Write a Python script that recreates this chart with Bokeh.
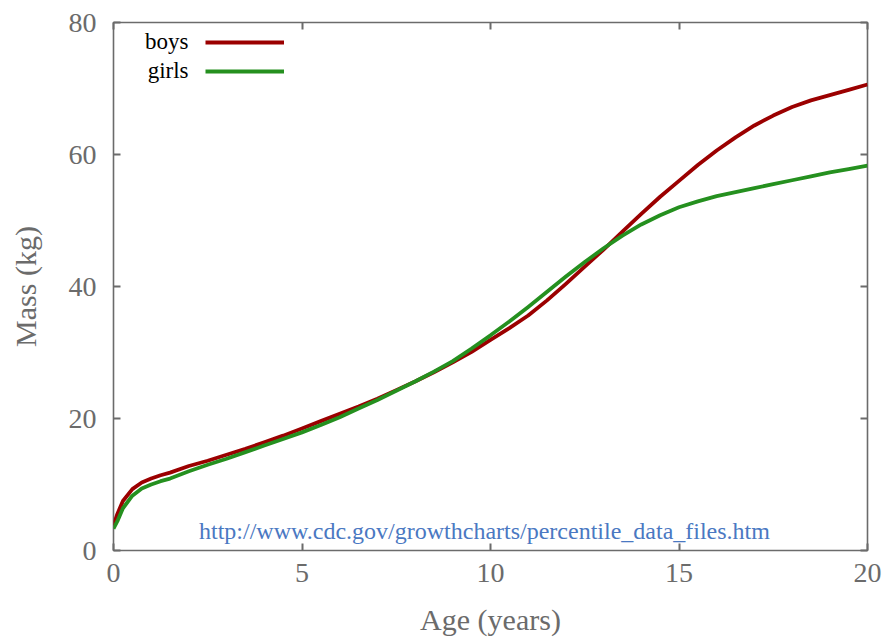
from bokeh.plotting import figure
from bokeh.models import (Range1d, LinearAxis, FixedTicker, Label, Legend, LegendItem,
                          CustomLabelingPolicy)
from bokeh.embed import file_html
from bokeh.resources import INLINE

# median weight-for-age (kg)
age = [0, 0.1, 0.25, 0.5, 0.75, 1, 1.25, 1.5, 2, 2.5, 3, 3.5, 4, 4.5, 5, 5.5, 6, 6.5, 7, 7.5,
       8, 8.5, 9, 9.5, 10, 10.5, 11, 11.5, 12, 12.5, 13, 13.5, 14, 14.5, 15, 15.5, 16, 16.5,
       17, 17.5, 18, 18.5, 19, 19.5, 20]
boys = [3.8, 5.5, 7.5, 9.3, 10.3, 10.9, 11.4, 11.8, 12.8, 13.6, 14.5, 15.4, 16.4, 17.4, 18.5,
        19.6, 20.7, 21.8, 23.0, 24.3, 25.6, 27.0, 28.5, 30.1, 31.9, 33.7, 35.6, 37.9, 40.4,
        43.0, 45.6, 48.3, 51.0, 53.6, 56.0, 58.4, 60.6, 62.6, 64.4, 65.9, 67.2, 68.2, 69.0,
        69.8, 70.6]
girls = [3.3, 4.4, 6.4, 8.3, 9.4, 10.0, 10.5, 10.9, 12.0, 13.0, 13.9, 14.9, 15.9, 16.9, 17.9,
         19.0, 20.2, 21.5, 22.8, 24.2, 25.6, 27.1, 28.7, 30.6, 32.6, 34.7, 36.9, 39.2, 41.5,
         43.7, 45.8, 47.7, 49.4, 50.8, 52.0, 52.9, 53.7, 54.3, 54.9, 55.5, 56.1, 56.7, 57.3,
         57.8, 58.3]
x_ticks = [0, 5, 10, 15, 20]
y_ticks = [0, 20, 40, 60, 80]
series_names = ["boys", "girls"]
source_text = "http://www.cdc.gov/growthcharts/percentile_data_files.htm"

FONT = "Liberation Serif"
GREY = "#6b6b6b"
BOY_C = "#9b0000"
GIRL_C = "#25901f"

p = figure(width=886, height=639, output_backend="svg", toolbar_location=None,
           x_range=Range1d(0, 20), y_range=Range1d(0, 80),
           min_border_left=113, min_border_right=19, min_border_top=22, min_border_bottom=89)
p.background_fill_color = "white"
p.border_fill_color = "white"
p.grid.visible = False
p.outline_line_color = GREY
p.outline_line_width = 1.6

r_boys = p.line(age, boys, line_color=BOY_C, line_width=3.8, line_join="round")
r_girls = p.line(age, girls, line_color=GIRL_C, line_width=3.8, line_join="round")

hide_labels = CustomLabelingPolicy(code="""
    const ids = [...indices]
    for (const i of ids) indices.unset(i)
    return indices
""")


def style_axis(ax, ticks, show_labels):
    ax.ticker = FixedTicker(ticks=ticks)
    ax.axis_line_color = None
    ax.major_tick_in = 7
    ax.major_tick_out = 0
    ax.major_tick_line_color = GREY
    ax.major_tick_line_width = 2
    ax.minor_tick_line_color = None
    if show_labels:
        ax.major_label_text_font = FONT
        ax.major_label_text_font_size = "28px"
        ax.major_label_text_color = GREY
        ax.axis_label_text_font = FONT
        ax.axis_label_text_font_size = "30px"
        ax.axis_label_text_font_style = "normal"
        ax.axis_label_text_color = GREY
    else:
        ax.major_label_policy = hide_labels
        ax.major_label_standoff = 0


style_axis(p.xaxis[0], x_ticks, True)
style_axis(p.yaxis[0], y_ticks, True)
p.xaxis[0].axis_label = "Age (years)"
p.yaxis[0].axis_label = "Mass (kg)"
p.xaxis[0].major_label_standoff = 13
p.yaxis[0].major_label_standoff = 17
p.xaxis[0].axis_label_standoff = 18
p.yaxis[0].axis_label_standoff = 24

top_ax = LinearAxis()
right_ax = LinearAxis()
style_axis(top_ax, x_ticks, False)
style_axis(right_ax, y_ticks, False)
p.add_layout(top_ax, "above")
p.add_layout(right_ax, "right")

# legend: line samples only; the names are drawn right-aligned to their left
legend = Legend(items=[LegendItem(label="", renderers=[r_boys]),
                       LegendItem(label="", renderers=[r_girls])],
                location=(92, 469), glyph_width=79, glyph_height=20, label_height=20,
                label_width=0, label_standoff=0, label_text_font_size="12px",
                spacing=9, padding=0, margin=0, border_line_color=None,
                background_fill_alpha=0)
p.add_layout(legend)

for name, yv in zip(series_names, [77.1, 72.7]):
    p.add_layout(Label(x=1.99, y=yv, text=name, text_align="right", text_baseline="middle",
                       text_font=FONT, text_font_size="23px", text_color="black"))

p.add_layout(Label(x=9.84, y=3.0, text=source_text, text_align="center",
                   text_baseline="middle", text_font=FONT, text_font_size="24px",
                   text_color="#4a78c2"))

open("out.html", "w").write(file_html(p, INLINE))
